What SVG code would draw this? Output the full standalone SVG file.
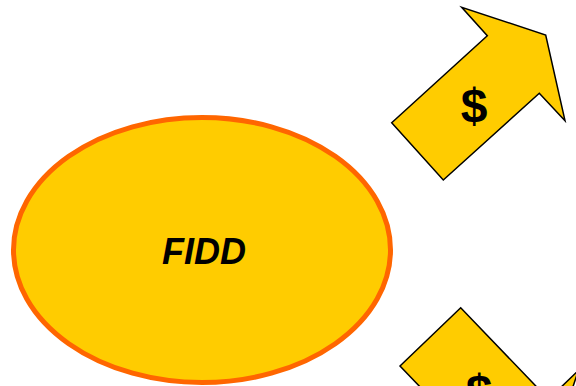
<svg xmlns="http://www.w3.org/2000/svg" width="576" height="386" viewBox="0 0 576 386">
<style>
.arrow{fill:#FFCC00;stroke:#000;stroke-width:1.5;stroke-linejoin:miter}
.dollar{font-family:"Liberation Sans",Arial,sans-serif;font-weight:bold;font-size:48px;fill:#000;text-anchor:middle}
.label{font-family:"Liberation Sans",Arial,sans-serif;font-weight:bold;font-style:italic;font-size:36px;fill:#000;text-anchor:middle}
</style>
<rect width="576" height="386" fill="#fff"/>
<g id="fidd">
<ellipse cx="202" cy="250" rx="188.5" ry="132.5" fill="#FFCC00" stroke="#FF6600" stroke-width="5"/>
<text class="label" x="204" y="264">FIDD</text>
</g>
<g id="arrow-up">
<polygon class="arrow" points="391.7,122.7 443.3,180 539.3,93.3 565,120.7 545.7,35 461.7,7.3 487.3,35.7"/>
<text class="dollar" x="474" y="122">$</text>
</g>
<g id="arrow-down">
<polygon class="arrow" points="400,366 460.7,307.7 548.5,399.2 578.4,370.5 548.4,460 457.8,486.1 487.7,457.4"/>
<text class="dollar" x="479" y="408">$</text>
</g>
</svg>
